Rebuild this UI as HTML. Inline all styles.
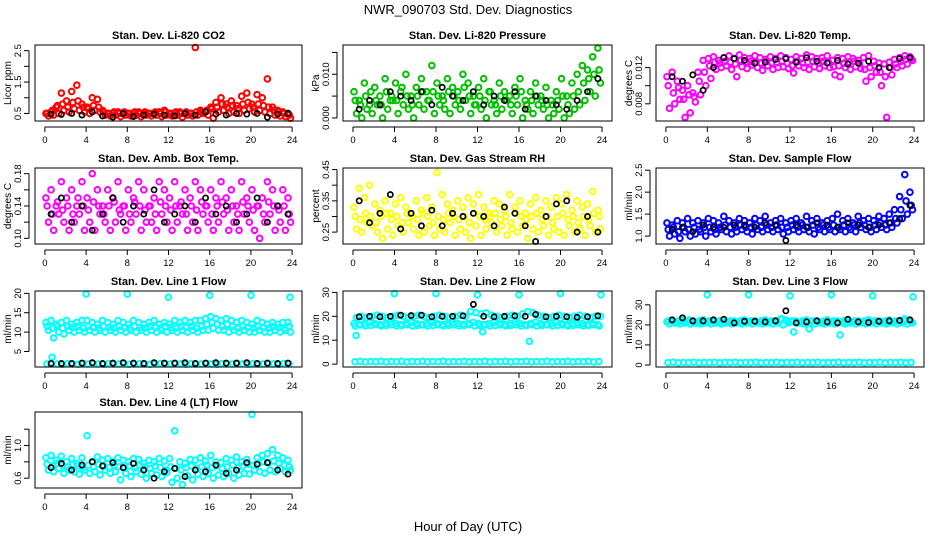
<!DOCTYPE html>
<html><head><meta charset="utf-8"><style>
html,body{margin:0;padding:0;background:#fff;}
svg{display:block;font-family:"Liberation Sans",Arial,sans-serif;}
</style></head><body>
<svg id="chart" width="936" height="540" viewBox="0 0 936 540" xmlns="http://www.w3.org/2000/svg">
<rect x="0" y="0" width="936" height="540" fill="#fff"/>
<text x="468" y="14" text-anchor="middle" font-size="13">NWR_090703 Std. Dev. Diagnostics</text>
<text x="468" y="531" text-anchor="middle" font-size="13">Hour of Day (UTC)</text>
</svg>
<script>
const hourTicks = [0,4,8,12,16,20,24];

const co2A = [0.5,0.55,0.7,1.15,0.9,1.2,1.4,0.8,0.7,1.0,0.95,0.6,0.5,0.5,0.55,0.5,0.5,0.5,0.55,0.5,0.5,0.5,0.55,0.6,0.5,0.5,0.55,0.5,0.5,2.6,0.6,0.55,0.7,0.85,1.0,0.8,0.9,0.75,1.05,1.15,0.8,1.1,1.0,1.6,0.7,0.6,0.55,0.5];
const co2B = [0.42,0.45,0.5,0.6,0.55,0.65,0.6,0.55,0.5,0.6,0.55,0.45,0.42,0.45,0.4,0.45,0.42,0.45,0.4,0.45,0.42,0.45,0.4,0.45,0.42,0.45,0.38,0.45,0.42,0.45,0.5,0.45,0.35,0.55,0.6,0.5,0.55,0.5,0.6,0.65,0.55,0.6,0.55,0.5,0.45,0.42,0.4,0.35];
const co2C = [0.5,0.6,0.75,0.8,0.7,0.85,0.9,0.7,0.65,0.75,0.7,0.55,0.5,0.55,0.5,0.55,0.5,0.55,0.5,0.55,0.5,0.55,0.5,0.55,0.5,0.55,0.5,0.55,0.5,0.55,0.55,0.6,0.65,0.7,0.8,0.7,0.75,0.65,0.8,0.85,0.7,0.8,0.75,0.7,0.6,0.55,0.5,0.45];
const co2K = [0.48,0.47,0.5,0.45,0.55,0.42,0.38,0.5,0.4,0.45,0.48,0.45,0.42,0.5,0.45,0.55,0.48,0.45,0.5,0.48,0.5,0.38,0.48,0.5];

const presA = [0.006,0.004,0.008,0.003,0.007,0.005,0.009,0.004,0.008,0.006,0.010,0.005,0.007,0.009,0.006,0.012,0.008,0.005,0.009,0.007,0.006,0.010,0.008,0.005,0.007,0.009,0.006,0.004,0.008,0.006,0.005,0.007,0.009,0.004,0.006,0.008,0.005,0.007,0.004,0.006,0.009,0.005,0.008,0.010,0.012,0.011,0.014,0.016];
const presB = [0.001,0.000,0.002,0.001,0.003,0.000,0.002,0.004,0.001,0.003,0.002,0.000,0.003,0.002,0.004,0.001,0.003,0.002,0.001,0.003,0.002,0.004,0.001,0.003,0.002,0.000,0.003,0.001,0.002,0.004,0.001,0.003,0.000,0.002,0.001,0.003,0.002,0.000,0.001,0.002,0.000,0.001,0.002,0.003,0.004,0.006,0.005,0.008];
const presC = [0.004,0.003,0.005,0.006,0.004,0.003,0.006,0.005,0.004,0.007,0.005,0.003,0.005,0.006,0.004,0.006,0.005,0.004,0.006,0.005,0.004,0.007,0.005,0.003,0.005,0.004,0.006,0.003,0.005,0.004,0.003,0.005,0.006,0.003,0.004,0.005,0.004,0.003,0.003,0.004,0.005,0.003,0.005,0.006,0.008,0.009,0.010,0.011];
const presK = [0.002,0.004,0.003,0.006,0.005,0.004,0.006,0.003,0.007,0.005,0.004,0.006,0.003,0.005,0.004,0.006,0.002,0.005,0.004,0.003,0.002,0.004,0.006,0.009];

const tempA = [0.0110,0.0115,0.0105,0.0095,0.0100,0.0092,0.0115,0.0128,0.0130,0.0132,0.0128,0.0131,0.0133,0.0130,0.0134,0.0131,0.0130,0.0133,0.0131,0.0129,0.0132,0.0130,0.0133,0.0131,0.0129,0.0132,0.0130,0.0134,0.0132,0.0130,0.0131,0.0133,0.0128,0.0131,0.0130,0.0132,0.0130,0.0128,0.0131,0.0133,0.0127,0.0125,0.0124,0.0126,0.0129,0.0131,0.0133,0.0132];
const tempB = [0.0075,0.0080,0.0085,0.0065,0.0070,0.0082,0.0090,0.0100,0.0108,0.0118,0.0120,0.0122,0.0118,0.0110,0.0121,0.0119,0.0123,0.0120,0.0117,0.0122,0.0118,0.0120,0.0121,0.0119,0.0114,0.0122,0.0120,0.0118,0.0121,0.0119,0.0122,0.0120,0.0112,0.0110,0.0120,0.0118,0.0121,0.0119,0.0105,0.0110,0.0115,0.0100,0.0065,0.0112,0.0120,0.0122,0.0124,0.0128];
const tempC = [0.0100,0.0092,0.0098,0.0085,0.0090,0.0088,0.0105,0.0115,0.0122,0.0126,0.0125,0.0127,0.0126,0.0124,0.0128,0.0126,0.0127,0.0126,0.0125,0.0127,0.0125,0.0126,0.0127,0.0125,0.0122,0.0127,0.0125,0.0126,0.0127,0.0125,0.0127,0.0126,0.0121,0.0122,0.0125,0.0126,0.0127,0.0124,0.0118,0.0120,0.0122,0.0115,0.0110,0.0120,0.0124,0.0127,0.0129,0.0130];
const tempK = [0.0110,0.0105,0.0112,0.0095,0.0120,0.0131,0.0130,0.0128,0.0125,0.0126,0.0129,0.0130,0.0126,0.0131,0.0127,0.0125,0.0128,0.0124,0.0125,0.0127,0.0120,0.0120,0.0130,0.0131];

const ambA = [0.15,0.16,0.14,0.17,0.15,0.16,0.14,0.17,0.15,0.18,0.16,0.14,0.16,0.15,0.17,0.14,0.16,0.15,0.17,0.16,0.14,0.15,0.17,0.16,0.15,0.17,0.14,0.16,0.15,0.17,0.16,0.14,0.16,0.15,0.17,0.15,0.16,0.14,0.17,0.15,0.16,0.14,0.15,0.17,0.16,0.14,0.16,0.15];
const ambB = [0.12,0.11,0.13,0.12,0.11,0.12,0.13,0.11,0.12,0.11,0.13,0.12,0.11,0.12,0.13,0.11,0.12,0.13,0.11,0.12,0.12,0.11,0.13,0.12,0.11,0.12,0.13,0.11,0.12,0.11,0.13,0.12,0.11,0.12,0.13,0.11,0.12,0.11,0.13,0.12,0.11,0.10,0.12,0.13,0.11,0.12,0.11,0.12];
const ambC = [0.14,0.13,0.145,0.135,0.14,0.13,0.15,0.14,0.135,0.145,0.14,0.13,0.14,0.145,0.135,0.14,0.13,0.145,0.14,0.135,0.14,0.13,0.145,0.14,0.135,0.14,0.145,0.13,0.14,0.135,0.145,0.14,0.13,0.14,0.145,0.135,0.14,0.13,0.145,0.14,0.135,0.14,0.13,0.145,0.14,0.135,0.14,0.13];
const ambK = [0.13,0.15,0.12,0.14,0.11,0.13,0.15,0.12,0.14,0.13,0.16,0.12,0.13,0.14,0.12,0.15,0.13,0.14,0.12,0.13,0.15,0.12,0.14,0.13];

const rhA = [0.33,0.39,0.36,0.40,0.34,0.32,0.35,0.31,0.34,0.36,0.33,0.31,0.35,0.32,0.36,0.33,0.44,0.37,0.34,0.32,0.35,0.33,0.36,0.34,0.37,0.33,0.31,0.35,0.34,0.32,0.37,0.33,0.35,0.31,0.34,0.36,0.32,0.35,0.33,0.36,0.34,0.37,0.32,0.35,0.33,0.34,0.38,0.32];
const rhB = [0.26,0.25,0.28,0.27,0.25,0.23,0.26,0.24,0.27,0.25,0.28,0.26,0.24,0.25,0.27,0.24,0.26,0.25,0.28,0.24,0.26,0.25,0.23,0.27,0.24,0.26,0.28,0.25,0.27,0.24,0.26,0.25,0.27,0.23,0.26,0.25,0.27,0.24,0.26,0.25,0.24,0.27,0.25,0.26,0.24,0.27,0.25,0.26];
const rhC = [0.30,0.29,0.31,0.30,0.28,0.30,0.31,0.29,0.30,0.28,0.31,0.30,0.29,0.31,0.30,0.28,0.30,0.29,0.31,0.30,0.29,0.30,0.28,0.31,0.30,0.29,0.30,0.31,0.29,0.30,0.28,0.31,0.30,0.29,0.30,0.31,0.29,0.30,0.28,0.30,0.31,0.29,0.30,0.28,0.30,0.29,0.31,0.30];
const rhK = [0.35,0.28,0.31,0.37,0.26,0.31,0.27,0.32,0.27,0.31,0.30,0.31,0.30,0.27,0.33,0.31,0.27,0.22,0.30,0.34,0.35,0.25,0.30,0.25];

const flowA = [1.3,1.25,1.35,1.3,1.4,1.3,1.35,1.3,1.4,1.35,1.3,1.45,1.35,1.3,1.4,1.35,1.3,1.4,1.35,1.45,1.3,1.35,1.4,1.3,1.35,1.4,1.3,1.45,1.35,1.4,1.3,1.35,1.4,1.5,1.35,1.4,1.3,1.45,1.35,1.4,1.35,1.45,1.4,1.5,1.6,1.9,2.4,2.0];
const flowB = [1.0,1.05,0.95,1.1,1.0,1.05,1.1,1.0,1.1,1.05,1.15,1.1,1.05,1.1,1.15,1.1,1.05,1.15,1.1,1.15,1.1,1.15,1.05,1.1,1.15,1.1,1.15,1.1,1.05,1.15,1.1,1.15,1.1,1.15,1.1,1.15,1.1,1.2,1.15,1.1,1.15,1.2,1.15,1.2,1.3,1.4,1.5,1.6];
const flowC = [1.15,1.2,1.1,1.2,1.15,1.2,1.15,1.2,1.2,1.15,1.2,1.25,1.2,1.2,1.25,1.2,1.2,1.25,1.2,1.25,1.2,1.25,1.2,1.2,1.25,1.2,1.25,1.2,1.25,1.2,1.25,1.2,1.25,1.2,1.25,1.2,1.25,1.3,1.25,1.2,1.25,1.3,1.25,1.3,1.4,1.6,1.8,1.7];
const flowK = [1.15,1.2,1.1,1.25,1.2,1.2,1.25,1.25,1.2,1.3,1.25,0.9,1.25,1.2,1.3,1.25,1.2,1.3,1.25,1.2,1.25,1.3,1.4,1.7];

const l1A = [12.5,13,12,12.5,13,12,12.5,13,13,12.5,12,13,12.5,12,13,12.5,12,13,12.5,12,12.5,13,12,12.5,12,13,12.5,13,12.5,13,13,13.5,14,13.5,13,13.5,13,12.5,13,12.5,12,13,12.5,12,12.5,12,12.5,12.5];
const l1B = [10.5,8.5,10,9.5,10.5,10,10.5,10,10.5,10,10.5,10,10.5,10,10.5,10,10.5,10,10.5,10,10.5,10,10.5,10,10.5,10,10.5,10,10.5,10,10.5,10.5,11,10.5,10.5,10,10.5,10,10.5,10,10,10.5,10,10,10.5,10,10.5,10];
const l1C = [11.5,11,11.5,11,11.5,11.2,11.5,11,11.5,11.2,11,11.5,11.2,11,11.5,11.2,11,11.5,11.2,11,11.5,11.2,11,11.5,11.2,11,11.5,11.2,11.5,11,11.5,12,12.5,12,11.5,12,11.5,11,11.5,11.2,11,11.5,11.2,11,11.5,11.2,11,11.5];
const l1Low = [1.8,3.5,1.8,1.7,1.9,1.8,1.7,1.9,1.8,1.9,1.8,1.7,1.9,1.8,1.8,1.9,1.7,1.8,1.9,1.8,1.7,1.8,1.9,1.8,1.8,1.9,1.8,1.7,1.9,1.8,1.8,1.9,1.8,1.7,1.9,1.8,1.8,1.9,1.8,1.7,1.9,1.8,1.8,1.9,1.8,1.7,1.9,1.8];
const l1OutH = [4,8,12,16,20,23.8];
const l1OutV = [19.8,19.8,19,19.5,19.5,19];
const l1K = [1.9,1.9,1.9,2.0,2.1,1.9,2.0,2.1,2.0,1.9,2.1,2.0,2.0,2.1,1.9,2.0,2.1,2.0,2.0,2.1,1.9,2.0,1.9,2.0];

const l2A = [17,16.5,17,17.5,17,16.5,17,17.5,17,16.5,17,17.5,17,16.5,17,17.5,17,16.5,17,17.5,17,16.5,17,17.5,17,16.5,17,17.5,17,16.5,17,17.5,17,16.5,17,17.5,17,16.5,17,17.5,17,16.5,17,17.5,17,16.5,17,16.5];
const l2B = [19.5,20,19.5,20,20.5,20,19.5,20,20.5,20,19.5,20,20.5,20,19.5,20,20.5,20,19.5,20,20.5,20,22,21.5,21,21.5,20.5,20,19.5,20,20.5,20,21,22,21.5,20.5,20,19.5,20,20.5,20,19.5,20,20.5,20,19.5,20,20];
const l2C = [16,16.5,16,16.2,16.5,16,16.2,16.5,16,16.2,16.5,16,16.2,16.5,16,16.2,16.5,16,16.2,16.5,16,16.2,16.5,16,16.2,16.5,16,16.2,16.5,16,16.2,16.5,16,16.2,16.5,16,16.2,16.5,16,16.2,16.5,16,16.2,16.5,16,16.2,16.5,16];
const l2Low = [1,1.2,0.9,1.1,1,1.2,0.9,1.1,1,1.2,0.9,1.1,1,1.2,0.9,1.1,1,1.2,0.9,1.1,1,1.2,0.9,1.1,1,1.2,0.9,1.1,1,1.2,0.9,1.1,1,1.2,0.9,1.1,1,1.2,0.9,1.1,1,1.2,0.9,1.1,1,1.2,0.9,1.1];
const l2OutH = [0.3,4,8,12,12.5,16,17,20,23.9];
const l2OutV = [12,29.5,29.5,29,13.5,29,9.5,29.5,29];
const l2K = [19.8,20,19.8,20,20.5,20.3,20.5,19.8,20,20,20.2,25,20,19.8,20,20.2,20,20.8,19.8,20,19.8,19.6,19.8,20.2];

const l3A = [21.5,22,21,22.5,21.5,22,21,22.5,21.5,22,21,22.5,21.5,22,21,22.5,21.5,22,21,22.5,21.5,22,23,22.5,21.5,22,21,22.5,21.5,22,21,22.5,21.5,22,21,22.5,21.5,22,21,22.5,21.5,22,21,22.5,21.5,22,23,22];
const l3B = [20.5,21,20.5,21,20.5,21,20.5,21,20.5,21,20.5,21,20.5,21,20.5,21,20.5,21,20.5,21,20.5,21,20,21,16.5,21,20.5,18,20.5,21,20.5,21,20.5,15,20.5,21,20.5,21,20.5,21,20.5,21,20.5,21,20.5,21,20.5,21];
const l3C = [22,21.5,22,21.5,22.5,21.5,22,21.5,22,21.5,22,21.5,22,21.5,22,21.5,22,21.5,22,21.5,22,21.5,23,22,22,21.5,22,21.5,22,21.5,22,21.5,22,21.5,22,21.5,22,21.5,22,21.5,22,21.5,22,21.5,22,21.5,22,21.5];
const l3Low = [1.2,1.4,1.1,1.3,1.2,1.4,1.1,1.3,1.2,1.4,1.1,1.3,1.2,1.4,1.1,1.3,1.2,1.4,1.1,1.3,1.2,1.4,1.1,1.3,1.2,1.4,1.1,1.3,1.2,1.4,1.1,1.3,1.2,1.4,1.1,1.3,1.2,1.4,1.1,1.3,1.2,1.4,1.1,1.3,1.2,1.4,1.1,1.3];
const l3OutH = [4,8,12,16,20,23.9];
const l3OutV = [35,35,34.5,35,34.5,34];
const l3K = [22.5,23.5,22,22,22.5,22.8,21,21.8,21.8,21.5,22,27,21,21.5,22,21.5,21,22.8,21.5,21.2,21.8,22,22.2,22.5];

const l4A = [0.85,0.88,0.82,0.87,0.8,0.84,0.78,0.85,1.12,0.8,0.86,0.82,0.84,0.8,0.85,0.82,0.8,0.84,0.83,0.78,0.82,0.8,0.84,0.81,0.84,1.18,0.8,0.78,0.83,0.82,0.85,0.81,0.88,0.8,0.79,0.84,0.82,0.86,0.8,0.83,1.38,0.85,0.88,0.9,0.95,0.88,0.85,0.82];
const l4B = [0.7,0.68,0.72,0.66,0.7,0.68,0.65,0.7,0.66,0.68,0.64,0.7,0.66,0.68,0.58,0.66,0.62,0.68,0.65,0.6,0.66,0.64,0.62,0.67,0.55,0.6,0.52,0.63,0.58,0.65,0.62,0.66,0.6,0.64,0.62,0.66,0.6,0.64,0.66,0.65,0.7,0.68,0.66,0.7,0.68,0.72,0.68,0.7];
const l4C = [0.77,0.75,0.78,0.76,0.74,0.77,0.75,0.73,0.76,0.74,0.77,0.75,0.73,0.76,0.74,0.72,0.75,0.73,0.76,0.74,0.72,0.75,0.73,0.7,0.74,0.72,0.7,0.73,0.75,0.72,0.74,0.76,0.73,0.75,0.72,0.74,0.76,0.73,0.75,0.77,0.76,0.78,0.8,0.79,0.81,0.78,0.76,0.74];
const l4K = [0.73,0.78,0.7,0.76,0.8,0.75,0.79,0.73,0.78,0.7,0.6,0.68,0.72,0.62,0.7,0.68,0.76,0.66,0.7,0.79,0.77,0.79,0.7,0.65];

const NS = 'http://www.w3.org/2000/svg';
const svg = document.getElementById('chart');
const colLeft = [35, 343, 656];
const colW = [267, 269, 268];
const rowTop = [45, 168, 291, 412];
const rowH = 76;

function mk(tag, attrs, parent) {
  const e = document.createElementNS(NS, tag);
  for (const k in attrs) e.setAttribute(k, attrs[k]);
  (parent || svg).appendChild(e);
  return e;
}

function panel(col, row, title, ylab, yMin, yMax, yTicks, yLabels, series, blackVals) {
  const L = colLeft[col], T = rowTop[row], W = colW[col], H = rowH;
  const xs = h => L + (h + 0.96) / 25.92 * W;
  const ys = v => T + H - (v - yMin) / (yMax - yMin) * H;
  const g = mk('g', {});
  
  
  const t = mk('text', {x: L + W / 2, y: T - 6, 'text-anchor': 'middle', 'font-size': '11', 'font-weight': 'bold'}, g);
  t.textContent = title;
  
  
  const yl = mk('text', {x: 0, y: 0, 'text-anchor': 'middle', 'font-size': '10', transform: 'translate(' + (L - 24) + ',' + (T + H / 2) + ') rotate(-90)'}, g);
  yl.textContent = ylab;
  
  
  const xa = mk('line', {x1: xs(0), x2: xs(24), y1: T + H + 6, y2: T + H + 6, stroke: '#000'}, g);
  
  
  hourTicks.forEach(h => {
    const tk = mk('line', {x1: xs(h), x2: xs(h), y1: T + H + 6, y2: T + H + 11, stroke: '#000'}, g);
    
    
    const tl = mk('text', {x: xs(h), y: T + H + 22, 'text-anchor': 'middle', 'font-size': '9.5'}, g);
    tl.textContent = String(h);
    
    
  });
  const ya = mk('line', {x1: L - 6, x2: L - 6, y1: ys(yTicks[0]), y2: ys(yTicks[yTicks.length - 1]), stroke: '#000'}, g);
  
  
  yTicks.forEach((v, i) => {
    const tk = mk('line', {x1: L - 11, x2: L - 6, y1: ys(v), y2: ys(v), stroke: '#000'}, g);
    
    
    if (yLabels[i]) {
      const tl = mk('text', {x: 0, y: 0, 'text-anchor': 'middle', 'font-size': '9.5', transform: 'translate(' + (L - 14) + ',' + ys(v) + ') rotate(-90)'}, g);
      tl.textContent = yLabels[i];
      
      
    }
  });
  series.forEach(s => {
    s.vals.forEach((v, i) => {
      const h = s.hours ? s.hours[i] : i * 0.5 + s.off;
      const c = mk('circle', {cx: xs(h), cy: ys(v), r: 2.8, fill: 'none', stroke: s.color, 'stroke-width': 2}, g);
      
      
    });
  });
  blackVals.forEach((v, i) => {
    const c = mk('circle', {cx: xs(i + 0.6), cy: ys(v), r: 2.6, fill: 'none', stroke: '#000', 'stroke-width': 1.7}, g);
    
    
  });
  const box = mk('rect', {x: L, y: T, width: W, height: H, fill: 'none', stroke: '#000'}, g);
  
  
}

const R = 'red', G = '#00c000', M = 'magenta', Y = 'yellow', B = 'blue', C = 'cyan';
panel(0, 0, 'Stan. Dev. Li-820 CO2', 'Licor ppm', 0.26, 2.68, [0.5,1,1.5,2,2.5], ['0.5','','1.5','','2.5'],
  [{vals: co2A, off: 0.1, color: R}, {vals: co2B, off: 0.35, color: R}, {vals: co2C, off: 0.22, color: R}], co2K);
panel(1, 0, 'Stan. Dev. Li-820 Pressure', 'kPa', -0.0007, 0.0167, [0,0.005,0.01,0.015], ['0.000','','0.010',''],
  [{vals: presA, off: 0.1, color: G}, {vals: presB, off: 0.35, color: G}, {vals: presC, off: 0.22, color: G}], presK);
panel(2, 0, 'Stan. Dev. Li-820 Temp.', 'degrees C', 0.0061, 0.0145, [0.008,0.01,0.012], ['0.008','','0.012'],
  [{vals: tempA, off: 0.1, color: M}, {vals: tempB, off: 0.35, color: M}, {vals: tempC, off: 0.22, color: M}], tempK);
panel(0, 1, 'Stan. Dev. Amb. Box Temp.', 'degrees C', 0.093, 0.187, [0.10,0.12,0.14,0.16,0.18], ['0.10','','0.14','','0.18'],
  [{vals: ambA, off: 0.1, color: M}, {vals: ambB, off: 0.35, color: M}, {vals: ambC, off: 0.22, color: M}], ambK);
panel(1, 1, 'Stan. Dev. Gas Stream RH', 'percent', 0.212, 0.455, [0.25,0.3,0.35,0.4,0.45], ['0.25','','0.35','','0.45'],
  [{vals: rhA, off: 0.1, color: Y}, {vals: rhB, off: 0.35, color: Y}, {vals: rhC, off: 0.22, color: Y}], rhK);
panel(2, 1, 'Stan. Dev. Sample Flow', 'ml/min', 0.82, 2.55, [1,1.5,2,2.5], ['1.0','1.5','2.0','2.5'],
  [{vals: flowA, off: 0.1, color: B}, {vals: flowB, off: 0.35, color: B}, {vals: flowC, off: 0.22, color: B}], flowK);
panel(0, 2, 'Stan. Dev. Line 1 Flow', 'ml/min', 1.0, 20.6, [5,10,15,20], ['5','10','15','20'],
  [{vals: l1A, off: 0.1, color: C}, {vals: l1B, off: 0.35, color: C}, {vals: l1C, off: 0.22, color: C}, {vals: l1Low, off: 0.2, color: C}, {vals: l1OutV, hours: l1OutH, color: C}], l1K);
panel(1, 2, 'Stan. Dev. Line 2 Flow', 'ml/min', -1.2, 30.6, [0,10,20,30], ['0','10','20','30'],
  [{vals: l2A, off: 0.1, color: C}, {vals: l2B, off: 0.35, color: C}, {vals: l2C, off: 0.22, color: C}, {vals: l2Low, off: 0.2, color: C}, {vals: l2OutV, hours: l2OutH, color: C}], l2K);
panel(2, 2, 'Stan. Dev. Line 3 Flow', 'ml/min', -1, 36.9, [0,10,20,30], ['0','10','20','30'],
  [{vals: l3A, off: 0.1, color: C}, {vals: l3B, off: 0.35, color: C}, {vals: l3C, off: 0.22, color: C}, {vals: l3Low, off: 0.2, color: C}, {vals: l3OutV, hours: l3OutH, color: C}], l3K);
panel(0, 3, 'Stan. Dev. Line 4 (LT) Flow', 'ml/min', 0.48, 1.41, [0.6,0.8,1.0,1.2], ['0.6','','1.0',''],
  [{vals: l4A, off: 0.1, color: C}, {vals: l4B, off: 0.35, color: C}, {vals: l4C, off: 0.22, color: C}], l4K);
</script>
</body></html>
